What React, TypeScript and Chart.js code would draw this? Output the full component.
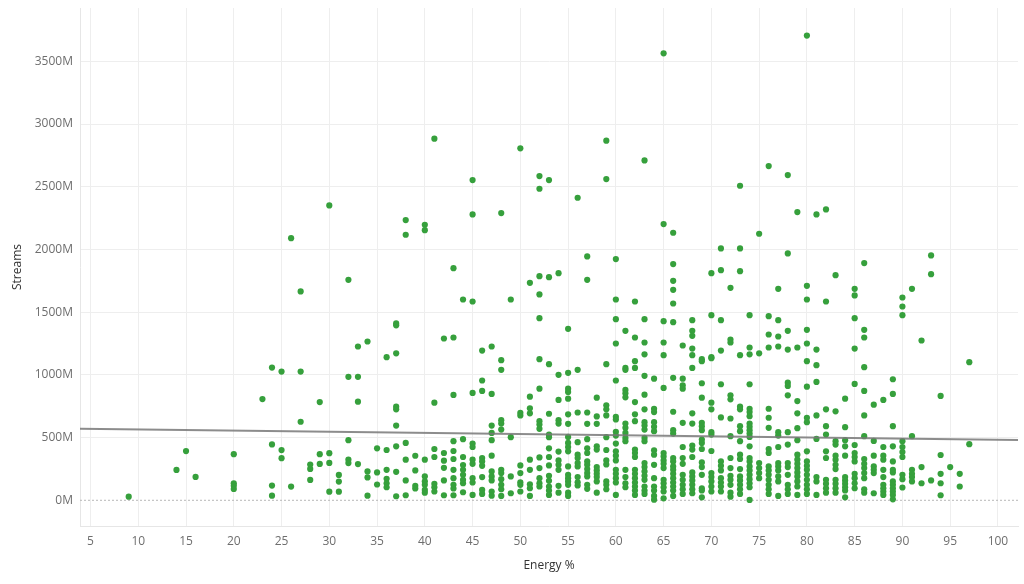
import { Chart, registerables, type ChartConfiguration } from "chart.js";
import { useEffect, useRef } from "react";

Chart.register(...registerables);

// Energy % on the x axis, one entry per column of dots
const energyLevels = [
  9, 14, 15, 16, 20, 23, 24, 25, 26, 27, 28, 29, 30, 31, 32, 33, 34, 35, 36, 37,
  38, 39, 40, 41, 42, 43, 44, 45, 46, 47, 48, 49, 50, 51, 52, 53, 54, 55, 56, 57,
  58, 59, 60, 61, 62, 63, 64, 65, 66, 67, 68, 69, 70, 71, 72, 73, 74, 75, 76, 77,
  78, 79, 80, 81, 82, 83, 84, 85, 86, 87, 88, 89, 90, 91, 92, 93, 94, 95, 96, 97,
];

// Streams in millions, same order as energyLevels
const streamsByEnergy = [
  [29],
  [242],
  [392],
  [186],
  [368, 135, 115, 90],
  [807],
  [1058, 445, 117, 37],
  [1026, 400, 336],
  [2090, 109],
  [1665, 1026, 626],
  [285, 250, 162],
  [783, 368, 290],
  [2351, 376, 298, 69],
  [202, 149, 69],
  [1758, 984, 479, 324, 297],
  [1226, 984, 786, 289],
  [1266, 230, 182, 37],
  [414, 222, 126],
  [1141, 401, 243, 171, 136, 104],
  [1410, 1395, 1172, 746, 725, 596, 430, 227, 32],
  [2234, 2117, 457, 324, 158, 40],
  [355, 238, 115, 94],
  [2197, 2154, 324, 190, 150, 123, 83, 61],
  [2883, 778, 409, 345, 131, 104, 70],
  [1290, 377, 316, 259, 158, 40],
  [1851, 1298, 840, 471, 393, 329, 243, 176, 123, 94, 40],
  [1601, 487, 345, 281, 243, 203, 163, 136, 64],
  [2553, 2279, 1585, 856, 452, 425, 324, 291, 176, 142, 43],
  [1194, 955, 872, 337, 310, 275, 185, 83, 51],
  [1226, 848, 596, 537, 479, 356, 230, 190, 158, 70, 37],
  [2290, 1117, 1040, 639, 612, 564, 243, 217, 168, 123, 88, 35],
  [1601, 503, 190, 56],
  [2806, 698, 677, 278, 217, 144, 123, 70],
  [1734, 826, 733, 693, 324, 243, 128, 96, 35],
  [2585, 2484, 1787, 1641, 1452, 1125, 890, 631, 604, 570, 342, 257, 176, 136, 110],
  [2553, 1779, 1085, 690, 524, 503, 414, 345, 278, 195, 155, 110, 78, 43],
  [1811, 1000, 800, 639, 612, 388, 318, 283, 243, 115, 61],
  [1367, 1016, 890, 864, 810, 685, 610, 505, 457, 425, 390, 270, 203, 176, 150, 123, 61, 35],
  [2412, 1040, 700, 463, 364, 337, 297, 270, 185, 144, 118],
  [1944, 1758, 700, 610, 487, 414, 377, 310, 283, 249, 217, 190, 123, 91],
  [818, 669, 610, 430, 404, 265, 238, 211, 185, 150, 61],
  [2867, 2561, 1085, 757, 725, 677, 503, 401, 318, 286, 150, 123, 88],
  [1923, 1601, 1444, 1250, 955, 666, 644, 546, 516, 452, 390, 356, 318, 243, 211, 176, 142, 43],
  [1351, 1055, 1040, 880, 853, 821, 612, 578, 537, 497, 471, 243, 185, 136, 104],
  [1585, 1298, 1109, 1055, 783, 685, 631, 404, 377, 345, 243, 211, 176, 142, 110, 78, 43],
  [2710, 1444, 1258, 1164, 992, 842, 725, 623, 596, 564, 497, 471, 297, 265, 230, 195, 163, 110, 78, 51],
  [970, 730, 703, 623, 586, 551, 398, 364, 283, 176, 110, 78, 35, 5],
  [3564, 2202, 1428, 1258, 1157, 896, 377, 350, 318, 291, 257, 163, 136, 104, 70, 16],
  [2133, 1883, 1750, 1678, 1569, 1420, 976, 706, 559, 532, 337, 310, 270, 243, 211, 176, 142, 110, 78, 35],
  [1234, 970, 917, 890, 618, 425, 337, 291, 203, 163, 123, 88, 51],
  [1436, 1351, 1311, 1210, 1157, 1055, 693, 612, 436, 404, 345, 222, 190, 158, 123, 88, 56],
  [1125, 1109, 933, 818, 618, 591, 559, 484, 457, 409, 302, 265, 203, 96, 78, 24],
  [1811, 1476, 1141, 1133, 778, 725, 543, 524, 393, 217, 185, 150, 110, 70],
  [2008, 1835, 1436, 1194, 925, 661, 310, 275, 238, 176, 142, 110, 70],
  [1694, 1282, 1258, 837, 805, 652, 511, 337, 257, 195, 163, 123, 61, 29],
  [2508, 2008, 1827, 1157, 746, 725, 591, 551, 471, 364, 329, 249, 190, 158, 123, 88, 51],
  [1476, 1218, 1164, 925, 730, 703, 671, 612, 586, 559, 532, 505, 430, 337, 310, 270, 238, 203, 168, 136, 104, 3],
  [2125, 1172, 297, 257, 217, 176],
  [2665, 1468, 1322, 1218, 730, 658, 578, 409, 377, 270, 238, 203, 163, 123, 88, 51],
  [1686, 1436, 1306, 1226, 543, 516, 425, 297, 270, 238, 190, 150, 35],
  [2593, 1968, 1351, 1202, 938, 912, 837, 543, 444, 297, 265, 203, 123, 88, 51],
  [2298, 1218, 791, 693, 575, 479, 364, 324, 291, 257, 222, 190, 150, 110, 43],
  [3705, 1710, 1601, 1359, 1250, 1109, 906, 658, 623, 390, 310, 275, 243, 203, 163, 123, 88, 51],
  [2279, 1202, 1077, 944, 677, 489, 185, 150, 43],
  [2319, 1585, 725, 591, 524, 390, 337, 163, 131, 96, 61],
  [1795, 709, 471, 444, 356, 324, 283, 249, 163, 131, 96, 61],
  [810, 583, 479, 430, 356, 185, 158, 131, 104, 78, 24],
  [1686, 1633, 1452, 1210, 928, 441, 377, 345, 310, 211, 176, 136, 96],
  [1891, 1359, 1298, 1061, 872, 677, 511, 329, 291, 257, 217, 176, 88, 61],
  [762, 473, 356, 270, 243, 217, 56],
  [800, 425, 356, 324, 243, 185, 123, 96, 70, 43],
  [965, 848, 591, 430, 310, 243, 222, 150, 123, 96, 70, 43, 8],
  [1617, 1545, 1476, 471, 425, 385, 345, 203, 168, 102],
  [1686, 511, 243, 211, 185, 150],
  [1274, 265, 136],
  [1952, 1803, 158],
  [832, 361, 211, 136, 40],
  [265],
  [211, 110],
  [1101, 447],
];

const xTicks = [5, 10, 15, 20, 25, 30, 35, 40, 45, 50, 55, 60, 65, 70, 75, 80, 85, 90, 95, 100];
const yTicks = [0, 500, 1000, 1500, 2000, 2500, 3000, 3500];

const xRange = [3.9, 102.1];
const yRange = [-205, 3925];

// trend line value at the left and right edge of the plot
const trendEnds = [570, 481];

const font = "'Open Sans', sans-serif";
const dotColor = "#36a03c";
const gridColor = "#eeeeee";

export default function App() {
  const canvasRef = useRef<HTMLCanvasElement>(null);

  useEffect(() => {
    if (!canvasRef.current) {
      return;
    }

    const chart = new Chart(canvasRef.current, buildConfig());

    return () => {
      chart.destroy();
    };
  }, []);

  return (
    <div
      style={{
        position: "fixed",
        left: 0,
        top: 0,
        width: 1024,
        height: 584,
        background: "#ffffff",
      }}
    >
      <canvas ref={canvasRef} />
    </div>
  );
}

function buildConfig(): ChartConfiguration<"scatter"> {
  const points = energyLevels.flatMap((energy, i) =>
    streamsByEnergy[i].map((streams) => ({ x: energy, y: streams })),
  );

  return {
    type: "scatter",
    data: {
      datasets: [
        {
          label: "Trend",
          data: [
            { x: xRange[0], y: trendEnds[0] },
            { x: xRange[1], y: trendEnds[1] },
          ],
          showLine: true,
          borderColor: "rgba(120, 120, 120, 0.85)",
          borderWidth: 2,
          pointRadius: 0,
          order: 0,
        },
        {
          label: "Songs",
          data: points,
          backgroundColor: dotColor,
          borderWidth: 0,
          pointRadius: 3.1,
          order: 1,
        },
        {
          label: "Zero",
          data: [
            { x: xRange[0], y: 0 },
            { x: xRange[1], y: 0 },
          ],
          showLine: true,
          borderColor: "#b8b8b8",
          borderWidth: 1,
          borderDash: [2, 2],
          pointRadius: 0,
          order: 2,
        },
      ],
    },
    options: {
      animation: false,
      responsive: true,
      maintainAspectRatio: false,
      layout: {
        padding: { top: 8, right: 6, left: 0, bottom: 0 },
      },
      plugins: {
        legend: { display: false },
        tooltip: { enabled: false },
      },
      scales: {
        x: {
          type: "linear",
          min: xRange[0],
          max: xRange[1],
          afterBuildTicks(scale) {
            scale.ticks = xTicks.map((value) => ({ value }));
          },
          afterFit(scale) {
            scale.height = 58;
            scale.paddingLeft = 0;
            scale.paddingRight = 0;
          },
          border: { color: "#e6e6e6" },
          grid: { color: gridColor, drawTicks: false },
          ticks: {
            color: "#6e6e6e",
            padding: 8,
            font: { family: font, size: 12 },
          },
          title: {
            display: true,
            text: "Energy %",
            color: "#333333",
            font: { family: font, size: 12 },
            padding: { top: 0, bottom: 11 },
          },
        },
        y: {
          type: "linear",
          min: yRange[0],
          max: yRange[1],
          afterBuildTicks(scale) {
            scale.ticks = yTicks.map((value) => ({ value }));
          },
          afterFit(scale) {
            scale.width = 80;
            scale.paddingTop = 0;
            scale.paddingBottom = 0;
          },
          border: { color: "#e6e6e6" },
          grid: {
            drawTicks: false,
            color: (ctx) => (ctx.tick && ctx.tick.value === 0 ? "rgba(0,0,0,0)" : gridColor),
          },
          ticks: {
            color: "#6e6e6e",
            padding: 7,
            font: { family: font, size: 12 },
            callback: (value) => `${value}M`,
          },
          title: {
            display: true,
            text: "Streams",
            color: "#333333",
            font: { family: font, size: 12 },
            padding: { top: 10, bottom: 0 },
          },
        },
      },
    },
  };
}
